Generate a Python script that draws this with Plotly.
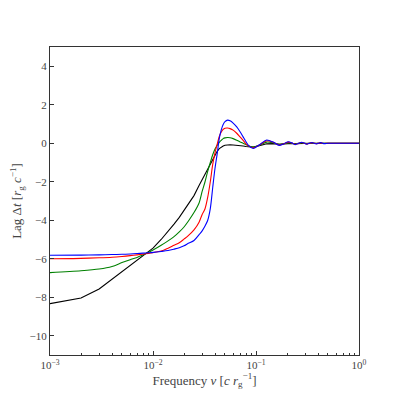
import plotly.graph_objects as go

# frequency grid [c r_g^-1]
freq = [0.001, 0.002, 0.003, 0.004, 0.005, 0.006, 0.007, 0.008, 0.009, 0.01,
        0.012, 0.014, 0.016, 0.018, 0.02, 0.022, 0.025, 0.028, 0.03, 0.032,
        0.034, 0.036, 0.038, 0.04, 0.042, 0.044, 0.046, 0.048, 0.05, 0.053,
        0.056, 0.06, 0.065, 0.07, 0.075, 0.08, 0.085, 0.094, 0.11, 0.127,
        0.147, 0.168, 0.187, 0.206, 0.223, 0.24, 0.258, 0.277, 0.294, 0.311,
        0.33, 0.35, 0.367, 0.385, 0.405, 0.425, 0.443, 0.46, 0.5, 0.6,
        0.8, 1.0]

lag_blue = [-5.82, -5.81, -5.80, -5.78, -5.77, -5.75, -5.73, -5.71, -5.69, -5.67,
            -5.62, -5.57, -5.50, -5.43, -5.33, -5.20, -5.05, -4.75, -4.55, -4.30,
            -4.00, -3.40, -2.30, -1.30, -0.55, 0.25, 0.70, 0.98, 1.12, 1.20,
            1.17, 1.05, 0.85, 0.60, 0.33, 0.08, -0.12, -0.27, -0.05, 0.17,
            0.06, -0.11, -0.02, 0.08, 0.02, -0.07, -0.01, 0.05, 0.01, -0.05,
            0.00, 0.04, 0.00, -0.03, 0.00, 0.03, 0.00, -0.02, 0.00, 0.00,
            0.00, 0.00]

lag_red = [-6.00, -5.98, -5.95, -5.92, -5.88, -5.84, -5.80, -5.76, -5.72, -5.68,
           -5.60, -5.45, -5.30, -5.17, -4.98, -4.80, -4.50, -4.10, -3.70, -3.40,
           -2.80, -2.00, -1.10, -0.50, -0.05, 0.35, 0.58, 0.72, 0.78, 0.79,
           0.76, 0.68, 0.52, 0.33, 0.15, -0.03, -0.14, -0.24, -0.06, 0.13,
           0.05, -0.09, -0.02, 0.06, 0.01, -0.05, -0.01, 0.04, 0.00, -0.04,
           0.00, 0.03, 0.00, -0.02, 0.00, 0.02, 0.00, -0.01, 0.00, 0.00,
           0.00, 0.00]

lag_green = [-6.72, -6.62, -6.53, -6.40, -6.20, -6.05, -5.93, -5.80, -5.68, -5.55,
             -5.30, -5.07, -4.85, -4.60, -4.35, -4.05, -3.60, -3.10, -2.50, -2.00,
             -1.45, -1.00, -0.60, -0.30, -0.10, 0.05, 0.15, 0.24, 0.28, 0.30,
             0.29, 0.24, 0.16, 0.07, 0.00, -0.07, -0.14, -0.20, -0.08, 0.06,
             0.02, -0.06, -0.02, 0.03, 0.00, -0.03, 0.00, 0.02, 0.00, -0.02,
             0.00, 0.01, 0.00, -0.01, 0.00, 0.00, 0.00, 0.00, 0.00, 0.00,
             0.00, 0.00]

lag_black = [-8.33, -8.04, -7.57, -7.07, -6.69, -6.38, -6.11, -5.88, -5.68, -5.45,
             -5.00, -4.60, -4.20, -3.85, -3.50, -3.20, -2.72, -2.20, -1.90, -1.55,
             -1.30, -1.05, -0.85, -0.62, -0.42, -0.28, -0.20, -0.14, -0.10, -0.08,
             -0.08, -0.09, -0.10, -0.12, -0.14, -0.17, -0.19, -0.20, -0.12, -0.03,
             -0.02, -0.05, -0.03, 0.00, -0.01, -0.02, -0.01, 0.00, 0.00, -0.01,
             0.00, 0.00, 0.00, 0.00, 0.00, 0.00, 0.00, 0.00, 0.00, 0.00,
             0.00, 0.00]

x_tickvals = [0.001, 0.01, 0.1, 1.0]
x_ticktext = ["10<sup>−3</sup>", "10<sup>−2</sup>", "10<sup>−1</sup>", "10<sup>0</sup>"]
y_tickvals = [-10, -8, -6, -4, -2, 0, 2, 4]
y_ticktext = ["−10", "−8", "−6", "−4", "−2", "0", "2", "4"]

_FONT = "Liberation Serif, DejaVu Serif, serif"
_AXIS = "#333"

fig = go.Figure()
for ys, col in [(lag_black, "black"), (lag_green, "green"),
                (lag_red, "red"), (lag_blue, "blue")]:
    # black curve is coarsely sampled (visible kinks), the rest are smooth
    shape = "linear" if col == "black" else "spline"
    fig.add_trace(go.Scatter(x=freq, y=ys, mode="lines",
                             line=dict(color=col, width=1.1, shape=shape,
                                       smoothing=0.8),
                             showlegend=False))

fig.update_xaxes(
    type="log", range=[-3, 0], automargin=False,
    tickvals=x_tickvals, ticktext=x_ticktext,
    ticks="inside", ticklen=4, tickcolor=_AXIS,
    minor=dict(ticks="inside", ticklen=2, tickcolor=_AXIS, dtick="D1"),
    showline=True, linecolor=_AXIS, linewidth=1.2, mirror=True,
    showgrid=False, zeroline=False,
    title=dict(text="Frequency <i>ν</i> [<i>c</i> <i>r</i><sub>g</sub><sup>−1</sup>]",
               standoff=4),
)
fig.update_yaxes(
    range=[-11, 5], automargin=False,
    tickvals=y_tickvals, ticktext=y_ticktext,
    ticks="inside", ticklen=4, tickcolor=_AXIS,
    showline=True, linecolor=_AXIS, linewidth=1.2, mirror=True,
    showgrid=False, zeroline=False,
    title=dict(text="Lag Δ<i>t</i> [<i>r</i><sub>g</sub> <i>c</i><sup>−1</sup>]",
               standoff=4),
)

# page body adds an 8 px offset, margins compensate for it
fig.update_layout(
    width=399, height=399,
    margin=dict(l=42, r=48, t=39, b=52),
    paper_bgcolor="white", plot_bgcolor="white",
    font=dict(family=_FONT, size=11, color="#444"),
)

fig.write_html("out.html")
